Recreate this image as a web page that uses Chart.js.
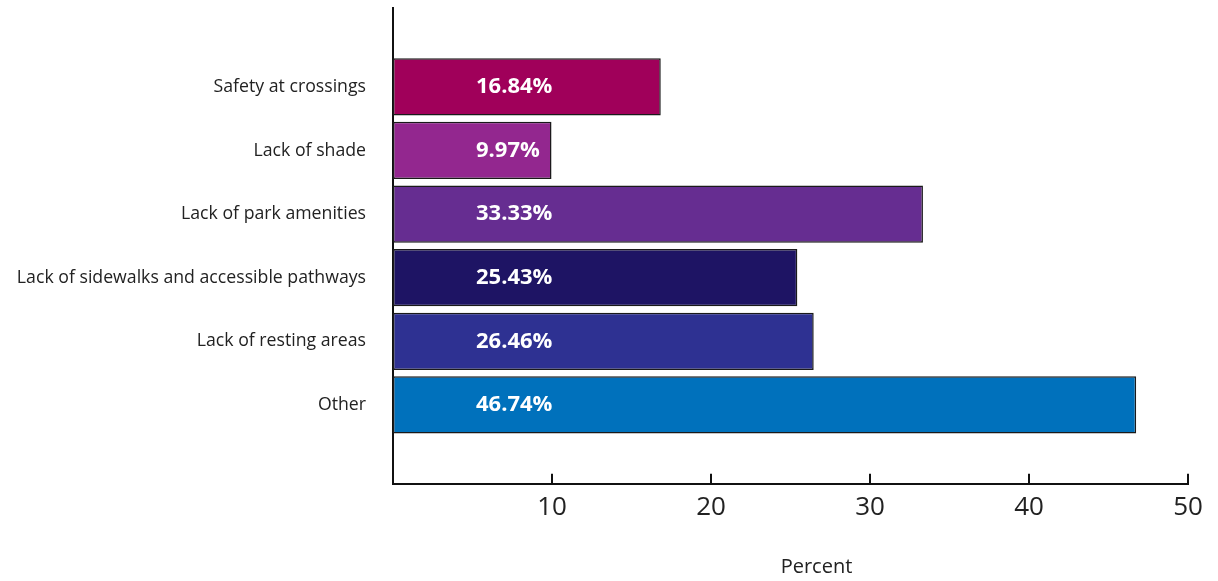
<!DOCTYPE html>
<html>
<head>
<meta charset="utf-8">
<script src="https://cdn.jsdelivr.net/npm/chart.js@4/dist/chart.umd.min.js"></script>
<style>
  html, body { margin: 0; padding: 0; background: #fff; }
  #wrap { width: 1218px; height: 581px; }
</style>
</head>
<body>
<div id="wrap"><canvas id="grafico"></canvas></div>
<script>
const categorias = [
  'Safety at crossings',
  'Lack of shade',
  'Lack of park amenities',
  'Lack of sidewalks and accessible pathways',
  'Lack of resting areas',
  'Other'
];
const porcentajes = [16.84, 9.97, 33.33, 25.43, 26.46, 46.74];
const colores = ['#A0005A', '#93278F', '#662D91', '#1E1464', '#2E3192', '#0071BC'];
const ticksX = [0, 10, 20, 30, 40, 50];
const tituloX = 'Percent';

// etiquetas blancas dentro de las barras + marcas del eje x
const extras = {
  id: 'extras',
  afterDatasetsDraw(chart) {
    const ctx = chart.ctx;
    const x = chart.scales.x;
    const y = chart.scales.y;
    const area = chart.chartArea;
    ctx.save();
    ctx.fillStyle = '#ffffff';
    ctx.font = 'bold 22px "Open Sans"';
    ctx.textAlign = 'left';
    ctx.textBaseline = 'middle';
    porcentajes.forEach((v, i) => {
      ctx.fillText(v.toFixed(2) + '%', x.getPixelForValue(5.22), y.getPixelForValue(i));
    });
    ctx.strokeStyle = '#111';
    ctx.lineWidth = 2;
    ticksX.forEach(t => {
      const px = Math.round(x.getPixelForValue(t));
      ctx.beginPath();
      ctx.moveTo(px, area.bottom - 10);
      ctx.lineTo(px, area.bottom);
      ctx.stroke();
    });
    ctx.fillStyle = '#222';
    ctx.textAlign = 'center';
    ctx.font = '20px "Open Sans"';
    ctx.fillText(tituloX, (area.left + area.right) / 2 + 26, 567);
    ctx.restore();
  }
};

new Chart(document.getElementById('grafico'), {
  type: 'bar',
  data: {
    datasets: [{
      data: porcentajes.map((v, i) => ({ x: v, y: i })),
      backgroundColor: colores,
      borderColor: '#1a1a1a',
      borderWidth: 1.5,
      borderSkipped: false,
      categoryPercentage: 1,
      barPercentage: 0.9
    }]
  },
  options: {
    indexAxis: 'y',
    responsive: true,
    maintainAspectRatio: false,
    animation: false,
    layout: { padding: { top: 8, right: 30, bottom: 50, left: 16 } },
    plugins: {
      legend: { display: false },
      tooltip: { enabled: false }
    },
    scales: {
      x: {
        type: 'linear',
        min: 0,
        max: 50,
        afterBuildTicks: s => { s.ticks = ticksX.map(v => ({ value: v })); },
        grid: { display: false, drawTicks: false },
        border: { display: true, color: '#111', width: 2 },
        ticks: {
          padding: 8,
          color: '#222',
          font: { family: 'Open Sans', size: 26 },
          maxRotation: 0,
          callback: v => (v === 0 ? '' : v)
        }
      },
      y: {
        type: 'linear',
        reverse: true,
        offset: false,
        bounds: 'data',
        min: -1.24,
        max: 6.24,
        afterBuildTicks: s => { s.ticks = categorias.map((c, i) => ({ value: i })); },
        afterFit: s => { s.paddingTop = 0; s.paddingBottom = 0; s.width = 377; },
        grid: { display: false, drawTicks: false, offset: false },
        border: { display: true, color: '#111', width: 2 },
        ticks: {
          padding: 27,
          color: '#222',
          font: { family: 'Open Sans', size: 17.7 },
          callback: v => categorias[v] ?? ''
        }
      }
    }
  },
  plugins: [extras]
});
</script>
</body>
</html>
